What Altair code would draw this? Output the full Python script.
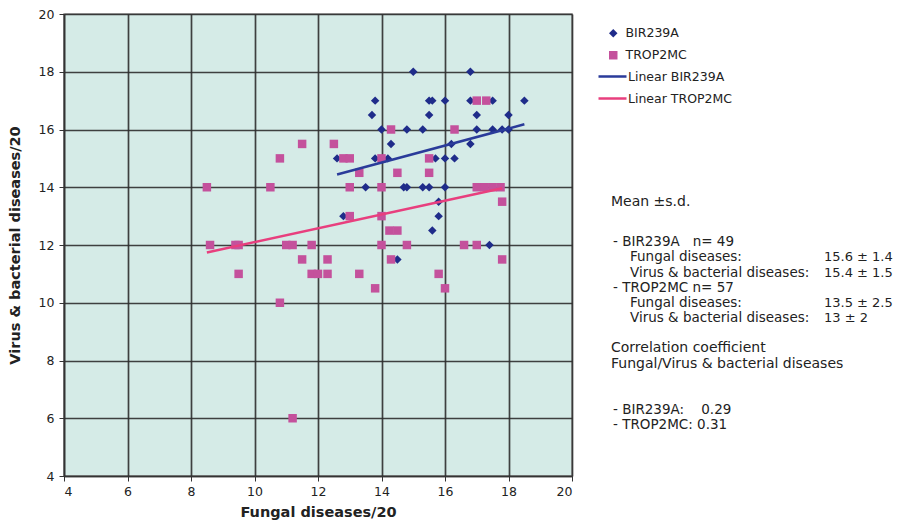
import altair as alt
import pandas as pd

# ---------------- data ----------------
bir_fungal = [15, 16.8, 13.8, 15.5, 15.6, 16, 16.8, 17.5, 18.5, 13.7, 15.5, 17, 18,
              14, 14.8, 15.3, 17, 17.5, 17.8, 18, 14.3, 16.2, 16.8, 12.6, 13.8, 14.2,
              15.7, 16, 16.3, 13.5, 14.7, 14.8, 15.3, 15.5, 16, 15.8, 12.8, 15.8, 15.6,
              17.4, 14.5]
bir_virus = [18, 18, 17, 17, 17, 17, 17, 17, 17, 16.5, 16.5, 16.5, 16.5,
             16, 16, 16, 16, 16, 16, 16, 15.5, 15.5, 15.5, 15, 15, 15,
             15, 15, 15, 14, 14, 14, 14, 14, 14, 13.5, 13, 13, 12.5,
             12, 11.5]

trop_fungal = [8.5, 10.5, 10.8, 11.5, 12.5, 12.8, 13, 14, 15.5, 14.3, 16.3, 17, 17.3,
               13.3, 14.5, 15.5, 13, 14, 17, 17.25, 17.5, 17.75, 17.8, 13, 14,
               8.6, 9.4, 9.5, 11, 11.2, 11.8, 14, 14.8, 16.6, 17, 14.25, 14.5,
               11.5, 12.3, 14.3, 17.8, 9.5, 11.8, 12, 12.3, 13.3, 15.8, 10.8,
               13.8, 16, 11.2]
trop_virus = [14, 14, 15, 15.5, 15.5, 15, 15, 15, 15, 16, 16, 17, 17,
              14.5, 14.5, 14.5, 14, 14, 14, 14, 14, 14, 13.5, 13, 13,
              12, 12, 12, 12, 12, 12, 12, 12, 12, 12, 12.5, 12.5,
              11.5, 11.5, 11.5, 11.5, 11, 11, 11, 11, 11, 11, 10,
              10.5, 10.5, 6]

series_names = ["BIR239A", "TROP2MC"]
line_names = ["Linear BIR239A", "Linear TROP2MC"]
axis_ticks = [4, 6, 8, 10, 12, 14, 16, 18, 20]

NB = "\u00a0"
stats_title = "Mean \u00b1s.d."
stats_rows = [
    ("- BIR239A" + NB * 3 + "n= 49", ""),
    ("Fungal diseases:", "15.6 \u00b1 1.4"),
    ("Virus & bacterial diseases:", "15.4 \u00b1 1.5"),
    ("- TROP2MC n= 57", ""),
    ("Fungal diseases:", "13.5 \u00b1 2.5"),
    ("Virus & bacterial diseases:", "13 \u00b1 2"),
]
corr_title = ["Correlation coefficient", "Fungal/Virus & bacterial diseases"]
corr_rows = ["- BIR239A:" + NB * 4 + "0.29", "- TROP2MC: 0.31"]

# ---------------- styling ----------------
point_colors = ["#1f2c8a", "#c4519c"]
line_colors = ["#2a3b9a", "#e83f7e"]
FONT = "DejaVu Sans"
W, H = 508, 462
PAD_L, PAD_T = 64, 14

df = pd.concat([
    pd.DataFrame({"fungal": bir_fungal, "virus": bir_virus, "series": series_names[0]}),
    pd.DataFrame({"fungal": trop_fungal, "virus": trop_virus, "series": series_names[1]}),
], ignore_index=True)

x_enc = alt.X("fungal:Q", scale=alt.Scale(domain=[4, 20], nice=False, zero=False),
              axis=alt.Axis(values=axis_ticks, title="Fungal diseases/20"))
y_enc = alt.Y("virus:Q", scale=alt.Scale(domain=[4, 20], nice=False, zero=False),
              axis=alt.Axis(values=axis_ticks, title="Virus & bacterial diseases/20"))

pt_legend = alt.Legend(title=None, orient="none", legendX=543, legendY=13,
                       labelFont=FONT, labelFontSize=12.5, labelColor="#222",
                       rowPadding=7, labelOffset=6, symbolSize=72)

points = alt.Chart(df).mark_point(filled=True, opacity=1, size=72).encode(
    x=x_enc, y=y_enc,
    fill=alt.Fill("series:N", scale=alt.Scale(domain=series_names, range=point_colors),
                  legend=pt_legend),
    shape=alt.Shape("series:N", scale=alt.Scale(domain=series_names, range=["diamond", "square"]),
                    legend=pt_legend),
)

lines = alt.Chart(df).transform_regression(
    "fungal", "virus", groupby=["series"]
).transform_calculate(
    label='"Linear " + datum.series'
).mark_line(strokeWidth=2.5).encode(
    x="fungal:Q", y="virus:Q",
    stroke=alt.Stroke("label:N", scale=alt.Scale(domain=line_names, range=line_colors),
                      legend=alt.Legend(title=None, orient="none", legendX=533, legendY=47,
                                        labelFont=FONT, labelFontSize=12.5, labelColor="#222",
                                        symbolType="stroke", symbolSize=784,
                                        symbolStrokeWidth=2.5, rowPadding=-3, labelOffset=0)),
)

layers = [points, lines]


def txt(s, x, y, size, weight="normal"):
    return alt.Chart(pd.DataFrame({"t": [s]})).mark_text(
        align="left", baseline="middle", font=FONT, fontSize=size,
        fontWeight=weight, color="#222"
    ).encode(x=alt.value(x - PAD_L), y=alt.value(y - PAD_T), text="t:N")


layers.append(txt(stats_title, 611, 202, 14))
row_y = [242, 257, 273, 288, 303, 318]
row_x = [613, 630, 630, 613, 630, 630]
for (lab, val), yy, xx in zip(stats_rows, row_y, row_x):
    layers.append(txt(lab, xx, yy, 13.5))
    if val:
        layers.append(txt(val, 824, yy, 13))
layers.append(txt(corr_title[0], 611, 348, 14))
layers.append(txt(corr_title[1], 611, 364, 14))
for lab, yy in zip(corr_rows, [410, 425]):
    layers.append(txt(lab, 613, yy, 13.5))

chart = alt.layer(*layers).properties(
    width=W, height=H,
    autosize=alt.AutoSizeParams(type="none"),
    padding={"left": PAD_L, "top": PAD_T, "right": 898 - PAD_L - W, "bottom": 532 - PAD_T - H},
    background="white",
).configure_view(
    fill="#d5ebe7", stroke="#8a8a8a", strokeWidth=1.5
).configure_axis(
    grid=True, gridColor="#2e2e2e", gridWidth=1.7, gridOpacity=0.9,
    domainColor="#333", domainWidth=1.5, tickColor="#333", tickSize=5,
    labelFont=FONT, labelFontSize=12.5, labelColor="#222", labelPadding=4,
    titleFont=FONT, titleFontSize=14.5, titleFontWeight="bold", titleColor="#222",
).configure_axisY(titlePadding=16, labelPadding=5).configure_axisX(titlePadding=8)

chart.save("out.html", embed_options={"renderer": "svg", "actions": False})
